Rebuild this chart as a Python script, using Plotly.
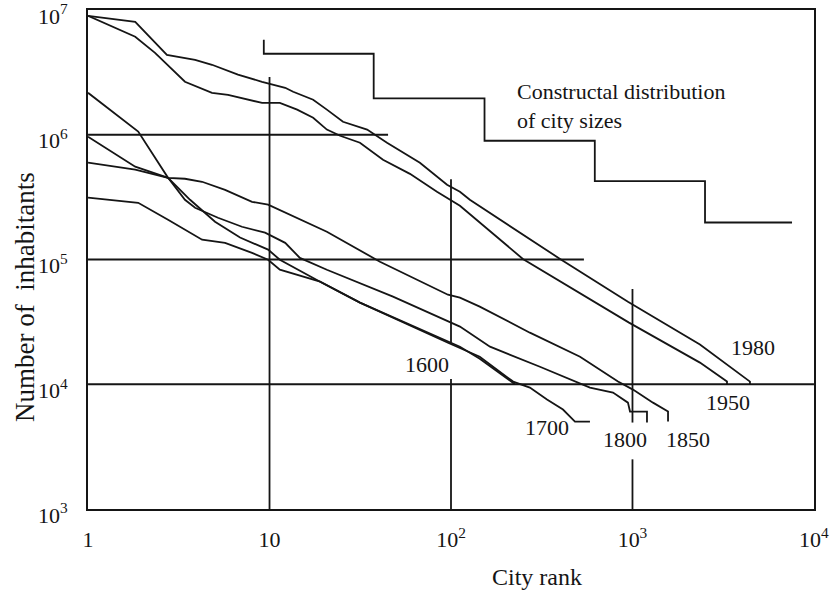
import math
import plotly.graph_objects as go

# ---------------- data ----------------
rank_1980 = [1, 1.82, 2.72, 3.89, 4.82, 6.7, 9.1, 12.2, 13.5, 17.4, 20.7, 25.4, 34.5, 44.4,
             67.4, 95.1, 112, 127, 399, 944, 2353, 4440, 4440]
pop_1980 = [8.99e6, 8.04e6, 4.37e6, 3.99e6, 3.64e6, 3.03e6, 2.66e6, 2.38e6, 2.21e6, 1.91e6,
            1.59e6, 1.27e6, 1.10e6, 8.63e5, 5.97e5, 3.97e5, 3.49e5, 3.01e5, 1.01e5, 4.59e4,
            2.08e4, 1.05e4, 1.0e4]

rank_1950 = [1, 1.82, 2.34, 3.42, 4.82, 5.91, 9.1, 11.4, 14.2, 17.4, 20.7, 24.5, 31.5, 42.2,
             59.4, 83.7, 112, 249, 957, 2353, 3317, 3317]
pop_1950 = [8.99e6, 6.10e6, 4.54e6, 2.66e6, 2.17e6, 2.09e6, 1.80e6, 1.80e6, 1.59e6, 1.37e6,
            1.10e6, 9.82e5, 8.63e5, 6.31e5, 4.86e5, 3.49e5, 2.70e5, 1.01e5, 3.12e4, 1.49e4,
            1.05e4, 1.0e4]

rank_1850 = [1, 1.89, 2.76, 3.42, 4.25, 5.69, 8.01, 9.82, 20.7, 37.2, 40.6, 96.2, 112, 144,
             272, 514, 832, 1006, 1297, 1570, 1570]
pop_1850 = [2.17e6, 1.06e6, 4.52e5, 4.44e5, 4.20e5, 3.62e5, 2.90e5, 2.75e5, 1.67e5, 1.03e5,
            9.6e4, 5.22e4, 4.94e4, 4.19e4, 2.59e4, 1.66e4, 1.05e4, 9.06e3, 7.12e3, 6.04e3,
            5.02e3]

rank_1800 = [1, 1.82, 2.76, 3.42, 3.89, 5.2, 7.05, 9.45, 12.2, 14.7, 20.7, 47.9, 112, 164,
             309, 482, 583, 781, 944, 969, 1202, 1202]
pop_1800 = [9.64e5, 5.55e5, 4.52e5, 3.01e5, 2.60e5, 2.16e5, 1.83e5, 1.64e5, 1.36e5, 1.03e5,
            8.28e4, 5.04e4, 2.90e4, 2.00e4, 1.38e4, 1.05e4, 9.40e3, 8.57e3, 7.12e3, 6.04e3,
            6.04e3, 4.93e3]

rank_1700 = [1, 1.82, 2.76, 3.65, 5.01, 6.88, 9.82, 11.4, 19.0, 31.5, 96.2, 144, 220, 272,
             338, 414, 482, 583]
pop_1700 = [5.97e5, 5.25e5, 4.52e5, 3.01e5, 2.01e5, 1.50e5, 1.20e5, 9.96e4, 6.64e4, 4.51e4,
            2.15e4, 1.66e4, 1.05e4, 9.40e3, 7.53e3, 6.27e3, 5.02e3, 5.02e3]

rank_1600 = [1, 1.89, 2.76, 4.25, 5.69, 8.01, 9.82, 11.4, 19.0, 31.5, 112, 144, 225]
pop_1600 = [3.13e5, 2.85e5, 2.08e5, 1.44e5, 1.36e5, 1.13e5, 9.96e4, 8.28e4, 6.64e4, 4.51e4,
            2.00e4, 1.60e4, 1.0e4]

# constructal distribution (staircase corners)
constructal_rank = [9.3, 9.3, 37.5, 153, 620, 2510, 7570]
constructal_pop = [5.77e6, 4.46e6, 1.96e6, 8.95e5, 4.25e5, 1.98e5, 1.98e5]

# reference-line segments drawn inside the frame
hline_pops = [1e6, 1e5, 1e4]
hline_ends = [45, 540, 1e4]
vline_segments = [  # (rank, pop_from, pop_to)
    (10, 1e3, 2.9e6),
    (100, 1e3, 1.1e4), (100, 2.15e4, 4.4e5),
    (1000, 1e3, 2.5e3), (1000, 4.93e3, 5.8e4),
]

year_labels = ["1980", "1950", "1850", "1800", "1700", "1600"]
label_rank = [4610, 3360, 2020, 910, 338, 73.8]
label_pop = [1.96e4, 7.1e3, 3.6e3, 3.6e3, 4.49e3, 1.44e4]

x_tickvals = [1, 10, 100, 1000, 10000]
x_ticktext = ["1", "10", "10<sup>2</sup>", "10<sup>3</sup>", "10<sup>4</sup>"]
y_tickvals = [1e3, 1e4, 1e5, 1e6, 1e7]
y_ticktext = ["10<sup>3</sup>", "10<sup>4</sup>", "10<sup>5</sup>", "10<sup>6</sup>", "10<sup>7</sup>"]

# ---------------- figure ----------------
INK = "#151515"
FONT = "Liberation Serif, Times New Roman, serif"
fig = go.Figure()

for yv, xe in zip(hline_pops, hline_ends):
    fig.add_trace(go.Scatter(x=[1, xe], y=[yv, yv], mode="lines",
                             line=dict(color=INK, width=1.8), hoverinfo="skip"))
for xv, y0, y1 in vline_segments:
    fig.add_trace(go.Scatter(x=[xv, xv], y=[y0, y1], mode="lines",
                             line=dict(color=INK, width=1.8), hoverinfo="skip"))

for xs, ys in [(rank_1980, pop_1980), (rank_1950, pop_1950), (rank_1850, pop_1850),
               (rank_1800, pop_1800), (rank_1700, pop_1700), (rank_1600, pop_1600)]:
    fig.add_trace(go.Scatter(x=xs, y=ys, mode="lines",
                             line=dict(color=INK, width=1.8)))

fig.add_trace(go.Scatter(x=constructal_rank, y=constructal_pop, mode="lines",
                         line=dict(color=INK, width=1.8, shape="hv")))

for t, xr, yp in zip(year_labels, label_rank, label_pop):
    fig.add_annotation(x=math.log10(xr), y=math.log10(yp), text=t, showarrow=False,
                       xref="x", yref="y", font=dict(size=22, color=INK, family=FONT))

fig.add_annotation(x=math.log10(225), y=math.log10(1.71e6),
                   text="Constructal distribution<br>of city sizes", showarrow=False,
                   xanchor="left", yanchor="middle", align="left",
                   font=dict(size=22, color=INK, family=FONT))

# axis titles
fig.add_annotation(x=0.6185, y=-0.1363, xref="paper", yref="paper", text="City rank",
                   showarrow=False, xanchor="center", yanchor="middle",
                   font=dict(size=24, color=INK, family=FONT))
fig.add_annotation(x=-0.0868, y=0.4249, xref="paper", yref="paper",
                   text="Number of\u00a0\u00a0inhabitants", textangle=-90,
                   showarrow=False, xanchor="center", yanchor="middle",
                   font=dict(size=27, color=INK, family=FONT))

fig.update_layout(
    width=835, height=591,
    margin=dict(l=88, r=21, t=10, b=82, autoexpand=False),
    paper_bgcolor="white", plot_bgcolor="white",
    showlegend=False,
    font=dict(family=FONT, size=22, color=INK),
)
fig.update_xaxes(type="log", range=[-0.0002, 4.0002], tickvals=x_tickvals, ticktext=x_ticktext,
                 showgrid=False, zeroline=False, showline=True, linecolor=INK, linewidth=2,
                 mirror=True, ticks="outside", ticklen=10, tickcolor="rgba(0,0,0,0)",
                 automargin=False, ticklabeloverflow="allow",
                 tickfont=dict(size=22, family=FONT, color=INK))
fig.update_yaxes(type="log", range=[2.9998, 7.0002], tickvals=y_tickvals, ticktext=y_ticktext,
                 showgrid=False, zeroline=False, showline=True, linecolor=INK, linewidth=2,
                 mirror=True, ticks="outside", ticklen=14, tickcolor="rgba(0,0,0,0)",
                 automargin=False, ticklabeloverflow="allow", ticklabelshift=6,
                 tickfont=dict(size=22, family=FONT, color=INK))

fig.write_html("out.html", config={"displayModeBar": False},
               post_script="document.body.style.margin='0';document.body.style.overflow='hidden';")
